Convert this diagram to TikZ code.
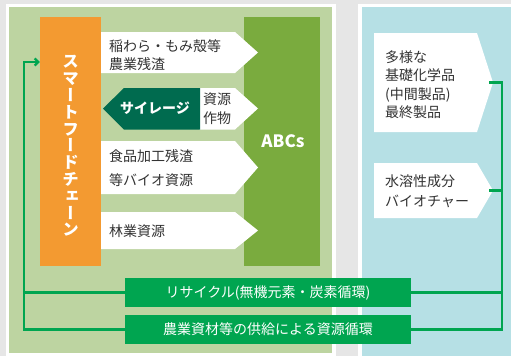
\documentclass[tikz,border=0pt]{standalone}
\usepackage{fontspec}
\setmainfont{Noto Sans CJK JP}
\newfontfamily\vertfont[RawFeature={+vert}]{Noto Sans CJK JP}
\usetikzlibrary{arrows.meta}
\definecolor{bggrey}{HTML}{E6E6E6}
\definecolor{lgreen}{HTML}{BDD4A1}
\definecolor{abcgreen}{HTML}{7AAB3E}
\definecolor{orangec}{HTML}{F39A31}
\definecolor{teal}{HTML}{006B4F}
\definecolor{bargreen}{HTML}{00A550}
\definecolor{lblue}{HTML}{B6E0E5}
\definecolor{txt}{HTML}{333333}
\tikzset{
  panelbox/.style={draw=none,inner sep=0},
  whitearrow/.style={fill=white},
  bar/.style={fill=bargreen,text=white,minimum width=286pt,minimum height=29pt,inner sep=0,font=\fontsize{14}{16}\selectfont},
  gline/.style={draw=bargreen,line width=2.2pt},
  lbl/.style={anchor=west,align=left,inner sep=0,text=txt,font=\fontsize{14}{18}\selectfont},
}
\begin{document}
\begin{tikzpicture}[x=1pt,y=-1pt]
\fill[bggrey] (0,0) rectangle (511,356);
\useasboundingbox (0,0) rectangle (511,356);
% panels
\fill[white] (6,4) rectangle (336,356);
\fill[lgreen] (9,7) rectangle (332,353);
\fill[white] (358,4) rectangle (511,356);
\fill[lblue] (362,7) rectangle (511,356);
% main blocks
\node[fill=abcgreen,minimum width=76pt,minimum height=249pt,inner sep=0] (abcs) at (282,141.5) {};
\node[text=white,font=\bfseries\fontsize{17}{20}\selectfont,inner sep=0] (abcslbl) at (283,141) {ABCs};
\node[fill=orangec,minimum width=61pt,minimum height=249pt,inner sep=0] (sfc) at (70.5,141.5) {};
\node[text=white,align=center,inner sep=0,font=\vertfont\bfseries\fontsize{16.5}{16.8}\selectfont] (sfclbl) at (70.5,146)
  {ス\\マ\\ー\\ト\\フ\\ー\\ド\\チ\\ェ\\ー\\ン};
% input arrows
\fill[whitearrow] (101,32) -- (235,32) -- (258,52.5) -- (235,73) -- (101,73) -- cycle;
\fill[whitearrow] (199,88) -- (235,88) -- (258,108.5) -- (235,129.5) -- (199,129.5) -- cycle;
\fill[teal] (200,88) -- (124,88) -- (103,108.5) -- (124,129.5) -- (200,129.5) -- cycle;
\fill[whitearrow] (101,141) -- (235,141) -- (258,167.5) -- (235,194) -- (101,194) -- cycle;
\fill[whitearrow] (101,212) -- (235,212) -- (258,230.5) -- (235,249) -- (101,249) -- cycle;
\node[lbl] (in1) at (109,55.5) {稲わら・もみ殻等\\農業残渣};
\node[text=white,font=\bfseries\fontsize{14}{16}\selectfont,inner sep=0] (silage) at (155,108.5) {サイレージ};
\node[lbl,font=\fontsize{14}{18.5}\selectfont] (in2) at (203,108.5) {資源\\作物};
\node[lbl,font=\fontsize{14}{24}\selectfont] (in3) at (109,168) {食品加工残渣\\等バイオ資源};
\node[lbl] (in4) at (109,231) {林業資源};
% output pentagons
\fill[whitearrow] (374,33) -- (477,33) -- (493,82.5) -- (477,132) -- (374,132) -- cycle;
\fill[whitearrow] (374,163) -- (477,163) -- (493,190.5) -- (477,218) -- (374,218) -- cycle;
\node[lbl,font=\fontsize{14}{18.5}\selectfont] (out1) at (385,84.5) {多様な\\基礎化学品\\(中間製品)\\最終製品};
\node[lbl,font=\fontsize{14}{20}\selectfont] (out2) at (385,191) {水溶性成分\\バイオチャー};
\coordinate (out1tip) at (489,82.5);
\coordinate (out2tip) at (489,190.5);
% bars
\node[bar] (bar1) at (268,292.5) {リサイクル(無機元素・炭素循環)};
\node[bar] (bar2) at (268,329.5) {農業資材等の供給による資源循環};
% connectors
\draw[gline,-{Straight Barb[length=3.5pt,width=7pt]}] (bar2.west) -| (24,62) -- (sfc.west |- 0,62);
\draw[gline] (bar1.west) -- (24,292.5);
\draw[gline] (out1tip) -- (502,82.5) |- (bar2.east);
\draw[gline] (out2tip) -- (502,190.5);
\draw[gline] (bar1.east) -- (502,292.5);
\end{tikzpicture}
\end{document}
